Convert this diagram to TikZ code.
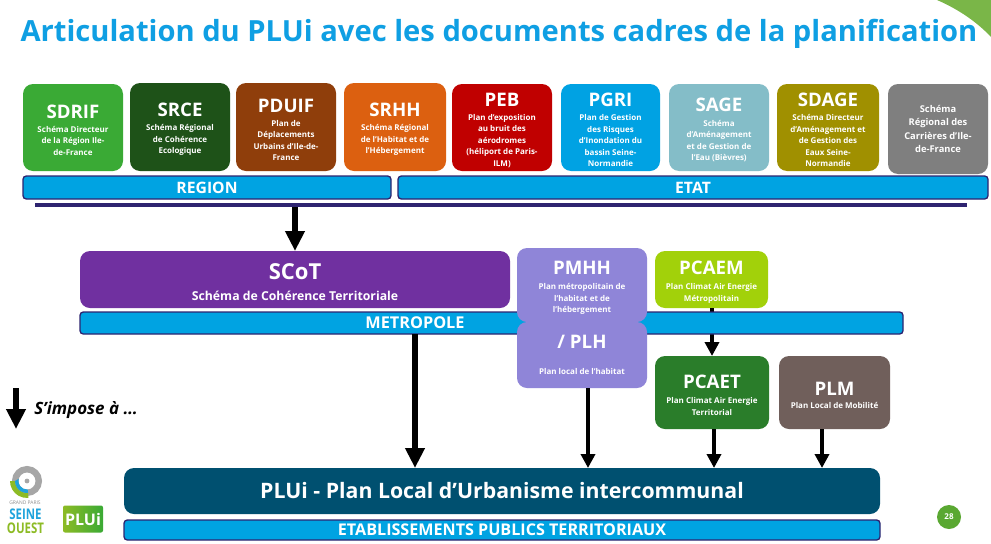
\documentclass[tikz,border=0pt]{standalone}
\usepackage{fontspec}
\setmainfont{Open Sans}
\usetikzlibrary{arrows.meta,calc}
\definecolor{cBar}{HTML}{00A3E2}
\definecolor{cBarLine}{HTML}{2E2470}
\definecolor{cTitle}{HTML}{0F9FE3}
\definecolor{cLilac}{HTML}{8F85D8}
\definecolor{HTMLsdrif}{HTML}{3AAA35}
\definecolor{HTMLsrce}{HTML}{1E5218}
\definecolor{HTMLpduif}{HTML}{8F3E0B}
\definecolor{HTMLsrhh}{HTML}{DC6010}
\definecolor{HTMLpeb}{HTML}{C00000}
\definecolor{HTMLpgri}{HTML}{00A2E3}
\definecolor{HTMLsage}{HTML}{84BDC8}
\definecolor{HTMLsdage}{HTML}{A09000}
\definecolor{HTMLcarr}{HTML}{7F7F7F}
\definecolor{HTMLscot}{HTML}{7030A0}
\definecolor{HTMLpcaem}{HTML}{A2D10A}
\definecolor{HTMLpcaet}{HTML}{2A7D2A}
\definecolor{HTMLplm}{HTML}{705F5B}
\definecolor{HTMLplui}{HTML}{005070}
\definecolor{HTMLbadge}{HTML}{5AA832}
\definecolor{cCorner}{HTML}{7AB648}
\definecolor{cLogoB}{HTML}{1FA3DC}
\definecolor{cLogoG}{HTML}{8DBB25}
\newcommand{\ac}[1]{\rule{0pt}{14pt}{\fontsize{14}{17}\bfseries #1}}
\newcommand{\ds}[1]{{\fontsize{6}{8.6}\selectfont\bfseries #1}}
\newcommand{\dc}[1]{{\fontsize{7}{10}\selectfont\bfseries #1}}
\tikzset{
  x=0.75pt,y=-0.75pt,
  card/.style={rounded corners=7.5pt,inner sep=0pt,outer sep=0pt,text=white,align=center,anchor=center,font=\fontsize{6}{8.6}\selectfont},
  bar/.style={draw=cBarLine,line width=1pt,fill=cBar,rounded corners=2.5pt,inner sep=0pt,outer sep=0pt,text=white,font=\fontsize{11.8}{13}\selectfont\bfseries,anchor=center},
  arr/.style={-{Triangle[length=10.5pt,width=10.5pt]},line width=3.6pt,black},
  bigarr/.style={-{Triangle[length=15pt,width=14pt]},line width=4.5pt,black},
}
\newcommand{\cardbox}[7]{% name, x0, y0, x1, y1, colour, text
  \node[card,fill=#6,minimum width={(#4-#2)*0.75pt},minimum height={(#5-#3)*0.75pt}] (#1) at ({(#2+#4)/2},{(#3+#5)/2}) {#7};}
\newcommand{\barbox}[6]{% name, x0, y0, x1, y1, text
  \node[bar,minimum width={(#4-#2)*0.75pt},minimum height={(#5-#3)*0.75pt}] (#1) at ({(#2+#4)/2},{(#3+#5)/2}) {#6};}
\begin{document}
\begin{tikzpicture}
\useasboundingbox (0,0) rectangle (991,543);
\fill[white] (0,0) rectangle (991,543);
% corner
\fill[cCorner] (937,0) .. controls (958,9) and (977,22) .. (991,37) -- (991,0) -- cycle;
% title
\node[anchor=center,text=cTitle,font=\fontsize{21.85}{26}\selectfont\bfseries,inner sep=0pt] (title) at (499,34) {Articulation du PLUi avec les documents cadres de la planification};
% top cards
\cardbox{sdrif}{23}{84}{123}{171}{HTMLsdrif}{\ac{SDRIF}\\[2pt]\ds{Schéma Directeur}\\\ds{de la Région Ile-}\\\ds{de-France}}
\cardbox{srce}{130}{83}{230}{171}{HTMLsrce}{\ac{SRCE}\\[2pt]\ds{Schéma Régional}\\\ds{de Cohérence}\\\ds{Ecologique}}
\cardbox{pduif}{236}{83}{336}{171}{HTMLpduif}{\ac{PDUIF}\\[2pt]\ds{Plan de}\\\ds{Déplacements}\\\ds{Urbains d’Ile-de-}\\\ds{France}}
\cardbox{srhh}{344}{83}{446}{171}{HTMLsrhh}{\ac{SRHH}\\[2pt]\ds{Schéma Régional}\\\ds{de l’Habitat et de}\\\ds{l’Hébergement}}
\cardbox{peb}{452}{84}{552}{171}{HTMLpeb}{\ac{PEB}\\[2pt]\ds{Plan d’exposition}\\\ds{au bruit des}\\\ds{aérodromes}\\\ds{(héliport de Paris-}\\\ds{ILM)}}
\cardbox{pgri}{561}{84}{660}{171}{HTMLpgri}{\ac{PGRI}\\[2pt]\ds{Plan de Gestion}\\\ds{des Risques}\\\ds{d’Inondation du}\\\ds{bassin Seine-}\\\ds{Normandie}}
\cardbox{sage}{669}{84}{769}{171}{HTMLsage}{\ac{SAGE}\\[2pt]\ds{Schéma}\\\ds{d’Aménagement}\\\ds{et de Gestion de}\\\ds{l’Eau (Bièvres)}}
\cardbox{sdage}{777}{84}{879}{171}{HTMLsdage}{\ac{SDAGE}\\[2pt]\ds{Schéma Directeur}\\\ds{d’Aménagement et}\\\ds{de Gestion des}\\\ds{Eaux Seine-}\\\ds{Normandie}}
\cardbox{carr}{888}{84}{988}{174}{HTMLcarr}{\dc{Schéma}\\[1.4pt]\dc{Régional des}\\[1.4pt]\dc{Carrières d’Ile-}\\[1.4pt]\dc{de-France}}
% region and state bars
\barbox{region}{23}{176}{391}{199}{REGION}
\barbox{etat}{398}{176}{988}{199}{ETAT}
\node[fill=cBarLine,inner sep=0pt,outer sep=0pt,minimum width={932*0.75pt},minimum height={4*0.75pt}] (rule) at (501,205) {};
% arrow anchors
\coordinate (xa) at (295,0);
\coordinate (xb) at (415,0);
\coordinate (xc) at (588,0);
\coordinate (xd) at (712,0);
\coordinate (xe) at (714,0);
\coordinate (xf) at (822,0);
% PCAEM to PCAET passes behind the bar
\cardbox{pcaet}{655}{356}{769}{429}{HTMLpcaet}{\ac{PCAET}\\[3pt]\ds{Plan Climat Air Energie}\\\ds{Territorial}}
\cardbox{pcaem}{655}{251}{768}{308}{HTMLpcaem}{\ac{PCAEM}\\[3pt]\ds{Plan Climat Air Energie}\\\ds{Métropolitain}}
\draw[arr] (pcaem.south -| xd) -- (pcaet.north -| xd);
\barbox{metro}{80}{312}{903}{334}{}
\node[inner sep=0pt,text=white,font=\fontsize{12.2}{14}\selectfont\bfseries] (metrot) at (415,323) {METROPOLE};
% middle cards
\cardbox{scot}{80}{251}{510}{308}{HTMLscot}{\rule{0pt}{16pt}{\fontsize{16.5}{20}\bfseries SCoT}\\[7pt]{\fontsize{9.2}{10}\selectfont\bfseries Schéma de Cohérence Territoriale}}
\cardbox{plh}{517}{322}{647}{388}{cLilac}{{\fontsize{14}{19}\bfseries / PLH}\\[10.5pt]\ds{Plan local de l’habitat}}
\cardbox{pmhh}{517}{248}{647}{322}{cLilac}{\ac{PMHH}\\[3pt]\ds{Plan métropolitain de}\\\ds{l’habitat et de}\\\ds{l’hébergement}}
\cardbox{plm}{779}{356}{890}{429}{HTMLplm}{\ac{PLM}\\[1pt]\ds{Plan Local de Mobilité}}
% bottom
\cardbox{plui}{124}{468}{880}{514}{HTMLplui}{{\fontsize{15.95}{20}\selectfont\bfseries PLUi - Plan Local d’Urbanisme intercommunal}}
\node[bar,font=\fontsize{12.1}{13}\selectfont\bfseries,minimum width={756*0.75pt},minimum height={20*0.75pt}] (ept) at (502,530) {ETABLISSEMENTS PUBLICS TERRITORIAUX};
% arrows
\draw[bigarr] (rule.south -| xa) -- (scot.north -| xa);
\draw[bigarr] (metro.south -| xb) -- (plui.north -| xb);
\draw[arr] (plh.south -| xc) -- (plui.north -| xc);
\draw[arr] (pcaet.south -| xe) -- (plui.north -| xe);
\draw[arr] (plm.south -| xf) -- (plui.north -| xf);
% legend
\coordinate (lega) at (16,388);
\coordinate (legb) at (16,429);
\draw[bigarr] (lega) -- (legb);
\node[anchor=west,inner sep=0pt,font=\fontsize{12.7}{15}\selectfont\bfseries\itshape] (legt) at (34,410) {S’impose à …};
% logos (y runs downward, so arc angles turn the other way)
\draw[black!35,line width=4.8pt] (27,481) circle[radius=11.8];
\fill[black!35] (27,481) circle[radius=2.4];
\fill[cLogoG] (10,481) arc[start angle=180,end angle=85,radius=17] -- (28,493) arc[start angle=85,end angle=180,radius=12] -- cycle;
\fill[cLogoB] (15,481) arc[start angle=180,end angle=85,radius=12] -- (27.7,489.5) arc[start angle=85,end angle=195,radius=8.5] -- cycle;
\node[inner sep=0pt,text=black!45,font=\fontsize{3.7}{4}\selectfont] (lg1) at (25,503) {GRAND PARIS};
\node[inner sep=0pt,text=cLogoB,xscale=0.78,font=\fontsize{11}{12}\selectfont\bfseries] (lg2) at (25.5,514) {SEINE};
\node[inner sep=0pt,text=cLogoG,xscale=0.78,font=\fontsize{11}{12}\selectfont\bfseries] (lg3) at (25.5,528) {OUEST};
\node[left color=cLogoG,right color=HTMLsdrif,rounded corners=1.5pt,minimum width={40*0.75pt},minimum height={27*0.75pt},inner sep=0pt,text=white,font=\fontsize{12}{14}\selectfont\bfseries] (lg4) at (83,519) {PLUi};
% page badge
\node[circle,fill=HTMLbadge,text=white,inner sep=0pt,minimum size={24*0.75pt},font=\fontsize{6}{7}\selectfont\bfseries] (page) at (949,517) {28};
\end{tikzpicture}
\end{document}
